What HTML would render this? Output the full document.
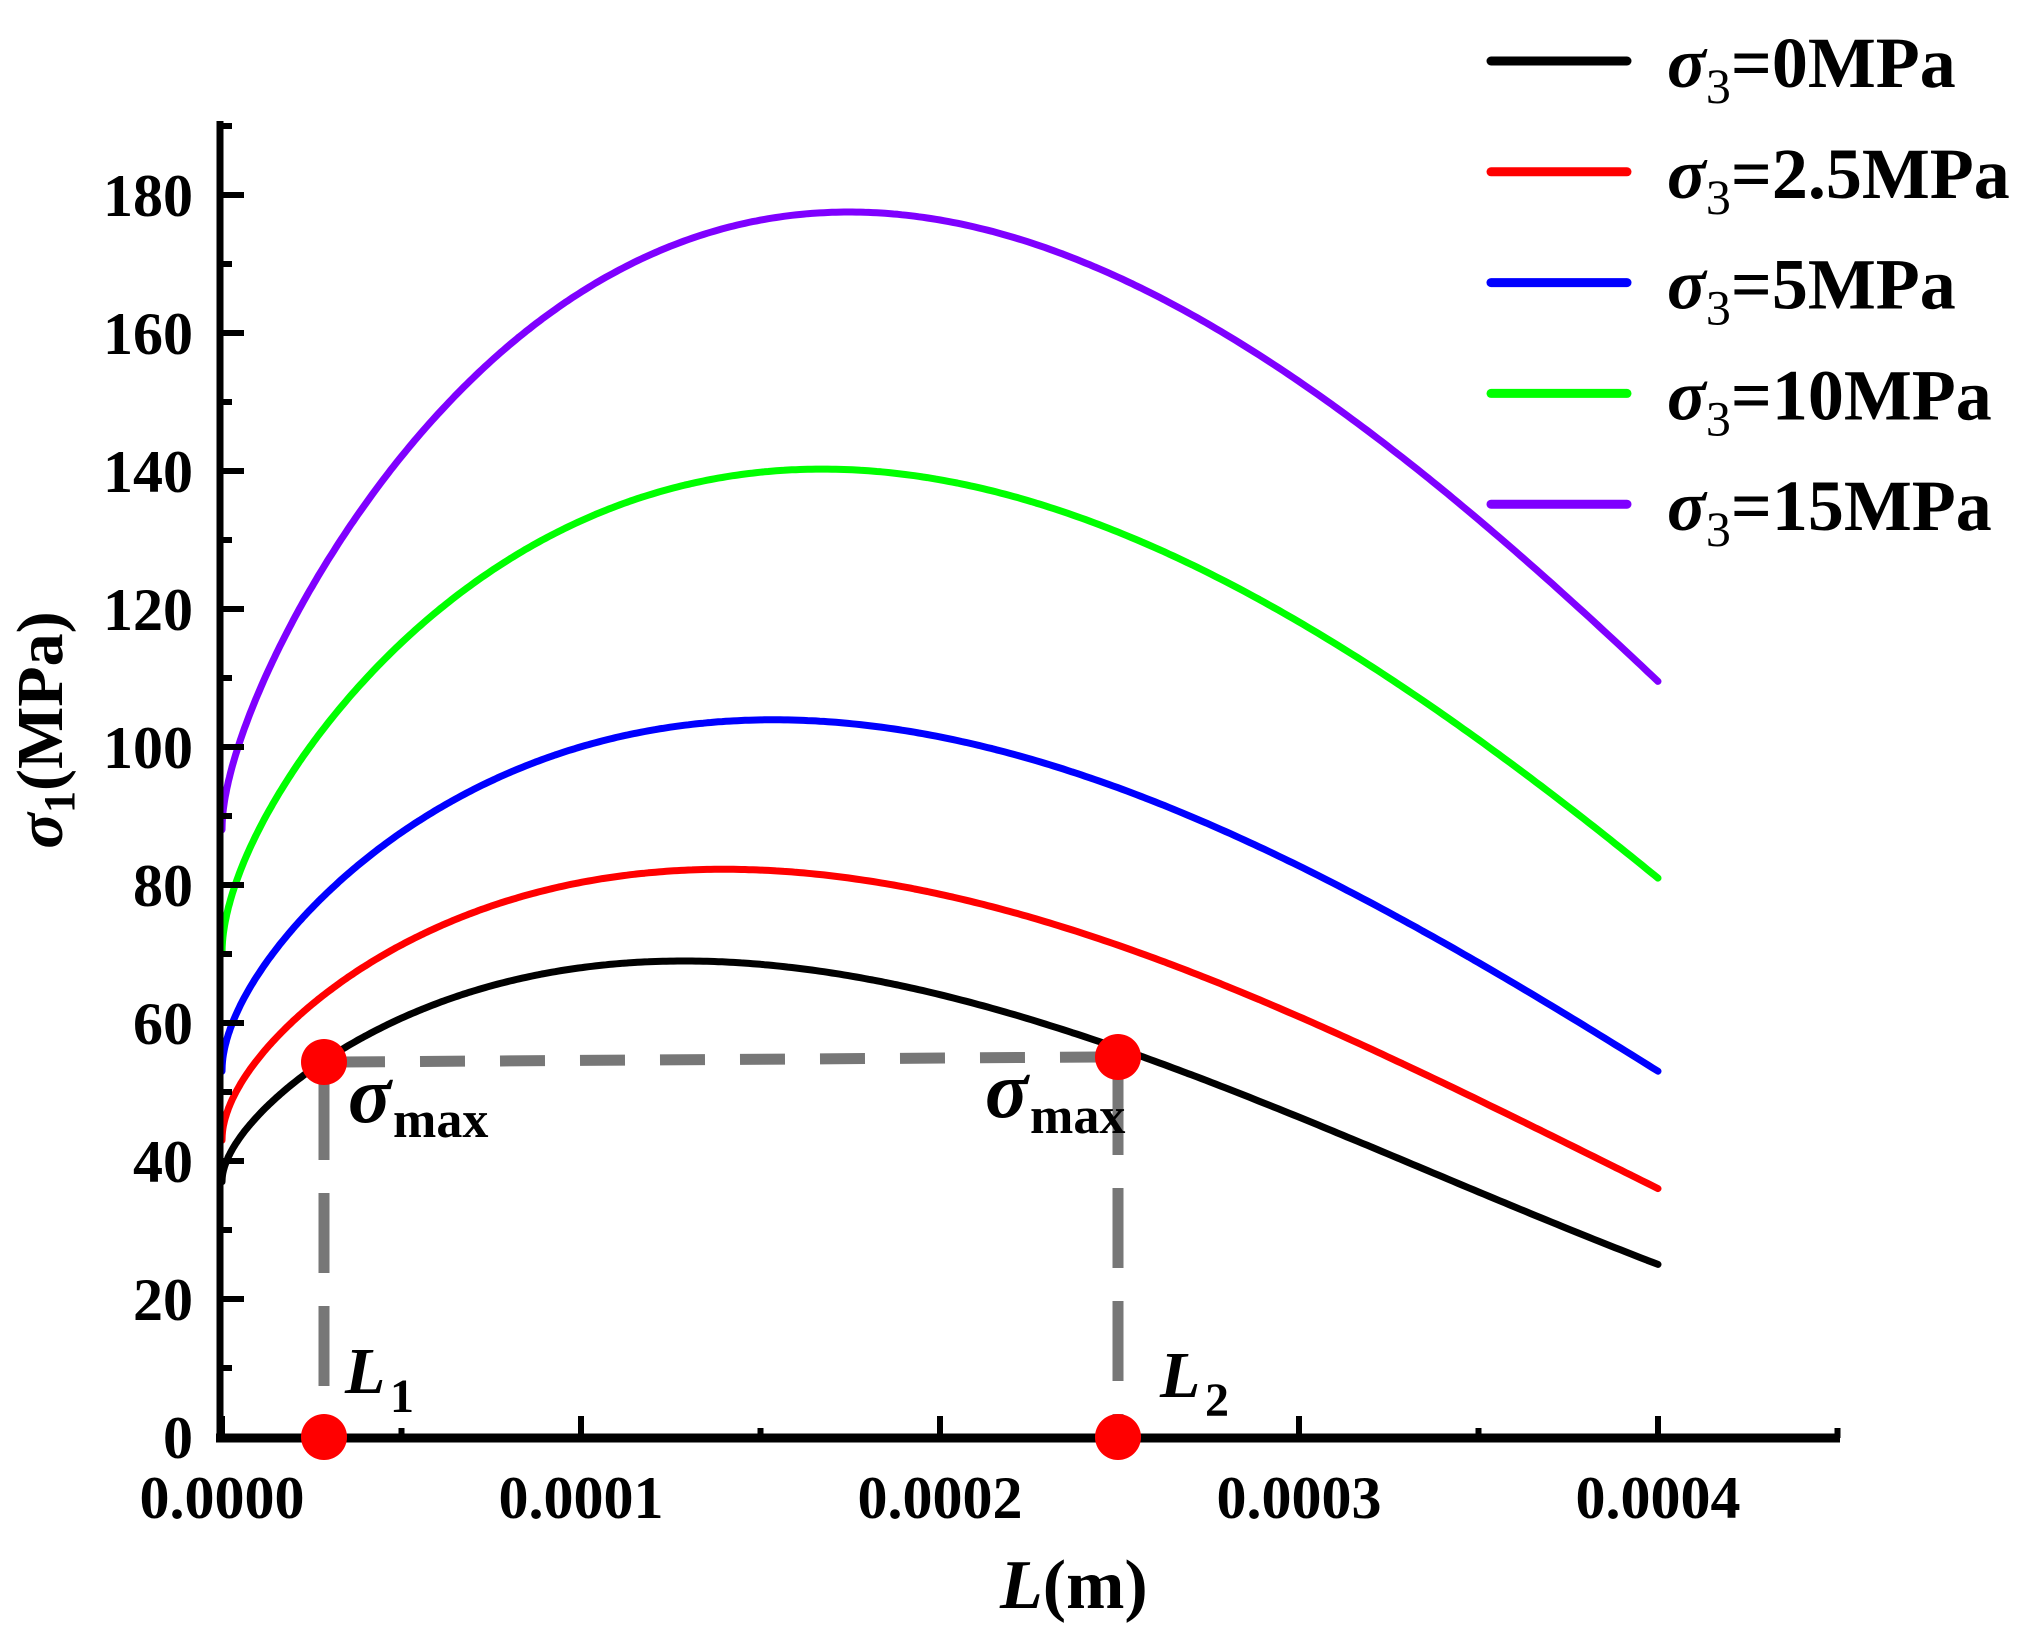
<!DOCTYPE html>
<html><head><meta charset="utf-8"><style>
html,body{margin:0;padding:0;background:#fff;}
svg{display:block;font-family:"Liberation Serif",serif;font-weight:bold;}
</style></head><body>
<svg id="s" width="2044" height="1636" viewBox="0 0 2044 1636" xmlns="http://www.w3.org/2000/svg">
<g id="curves" fill="none" stroke-width="7" stroke-linejoin="round" stroke-linecap="round"></g>
<g stroke="#777" stroke-width="11" fill="none">
<line x1="340" y1="1062" x2="1100" y2="1057" stroke-dasharray="45 35"/>
<line x1="324" y1="1080" x2="324" y2="1420" stroke-dasharray="80 33"/>
<line x1="1118" y1="1075" x2="1118" y2="1420" stroke-dasharray="80 33"/>
</g>
<g stroke="#000" fill="none">
<line x1="220" y1="121" x2="220" y2="1442" stroke-width="7"/>
<line x1="216" y1="1438" x2="1840" y2="1438" stroke-width="9"/>
</g>
<g id="ticks" stroke="#000" stroke-width="6"></g>
<g fill="#f00">
<ellipse cx="324" cy="1062" rx="23" ry="23"/>
<ellipse cx="1118" cy="1057" rx="23" ry="23"/>
<ellipse cx="324" cy="1437" rx="23" ry="23"/>
<ellipse cx="1118" cy="1437" rx="23" ry="23"/>
</g>
<g id="labels" font-size="60"></g>
<text x="348" y="1122" font-size="80" font-style="italic">σ</text>
<text x="393" y="1137" font-size="52">max</text>
<text x="985" y="1117" font-size="80" font-style="italic">σ</text>
<text x="1030" y="1133" font-size="52">max</text>
<text x="345" y="1393" font-size="66" font-style="italic">L</text>
<text x="390" y="1412" font-size="48">1</text>
<text x="1160" y="1397" font-size="66" font-style="italic">L</text>
<text x="1205" y="1416" font-size="48">2</text>
<text x="1000" y="1608" font-size="70"><tspan font-style="italic">L</tspan>(m)</text>
<g transform="translate(62,730) rotate(-90)">
<text x="0" y="0" text-anchor="middle" font-size="66"><tspan font-style="italic">σ</tspan><tspan font-size="44" dy="12">1</tspan><tspan dy="-12">(MPa)</tspan></text>
</g>
<g id="legend"></g>
</svg>
<script>
var NS="http://www.w3.org/2000/svg";
function X(l){return 222+l*359;}function Y(v){return 1437-v*6.9;}
var data=[
["#000",[[0,37],[0.1,46],[0.283,54.5],[0.5,61],[1,68.5],[1.2,69],[1.5,68],[2,64],[2.5,56],[3,46.5],[3.5,36],[4,25]]],
["#f00",[[0,43],[0.1,55],[0.283,64],[0.5,71],[1,80.5],[1.32,82.5],[2,78.5],[2.5,71],[3,61],[3.5,49],[4,36]]],
["#00f",[[0,53],[0.1,67],[0.283,78],[0.5,88],[1,100],[1.47,104],[2,101.5],[2.5,93.5],[3,83],[3.5,69],[4,53]]],
["#0f0",[[0,70],[0.1,88],[0.283,102],[0.5,116],[1,132],[1.62,140.5],[2,139],[2.5,131],[3,118],[3.5,101],[4,81]]],
["#7f00ff",[[0,88],[0.1,108],[0.283,125],[0.5,143],[1,166],[1.5,176],[1.73,177.5],[2,176.5],[2.5,168],[3,153],[3.5,133],[4,109.5]]]];
function basis(u){return [1,Math.sqrt(u),u,u*u,u*u*u];}
function fit(pts){var n=5,A=[],b=[];for(var i=0;i<n;i++){A.push([0,0,0,0,0]);b.push(0);}
pts.forEach(function(p){var w=(p[0]==0||p[0]==4)?20:1;var f=basis(p[0]);for(var i=0;i<n;i++){b[i]+=w*f[i]*p[1];for(var j=0;j<n;j++)A[i][j]+=w*f[i]*f[j];}});
for(var i=0;i<n;i++){var m=i;for(var k=i+1;k<n;k++)if(Math.abs(A[k][i])>Math.abs(A[m][i]))m=k;var t=A[i];A[i]=A[m];A[m]=t;t=b[i];b[i]=b[m];b[m]=t;
for(var k=i+1;k<n;k++){var r=A[k][i]/A[i][i];for(var j=i;j<n;j++)A[k][j]-=r*A[i][j];b[k]-=r*b[i];}}
var c=[0,0,0,0,0];for(var i=n-1;i>=0;i--){var s=b[i];for(var j=i+1;j<n;j++)s-=A[i][j]*c[j];c[i]=s/A[i][i];}return c;}
var cg=document.getElementById("curves");
data.forEach(function(d){var c=fit(d[1]);var s="";
for(var k=0;k<=400;k++){var u=4*Math.pow(k/400,1.5);var f=basis(u),v=0;for(var i=0;i<5;i++)v+=c[i]*f[i];
s+=(k?" L":"M")+X(u).toFixed(1)+" "+Y(v).toFixed(1);}
var e=document.createElementNS(NS,"path");e.setAttribute("d",s);e.setAttribute("stroke",d[0]);cg.appendChild(e);});
var tg=document.getElementById("ticks"),lg=document.getElementById("labels");
function line(a,b,c,d){var e=document.createElementNS(NS,"line");e.setAttribute("x1",a);e.setAttribute("y1",b);e.setAttribute("x2",c);e.setAttribute("y2",d);tg.appendChild(e);}
function txt(x,y,t,anc){var e=document.createElementNS(NS,"text");e.setAttribute("x",x);e.setAttribute("y",y);e.setAttribute("text-anchor",anc);e.textContent=t;lg.appendChild(e);}
for(var v=0;v<=190;v+=10){var y=Y(v);if(v%20==0){line(220,y,244,y);txt(193,y+21,""+v,"end");}else line(220,y,232,y);}
for(var i=0;i<=9;i++){var x=222+i*179.5;if(i%2==0){line(x,1438,x,1416);txt(x,1518,"0.000"+(i/2),"middle");}else line(x,1438,x,1428);}
var leg=document.getElementById("legend"),cols=["#000","#f00","#00f","#0f0","#7f00ff"],nm=["0","2.5","5","10","15"];
for(var k=0;k<5;k++){var y=61+k*110.8;var e=document.createElementNS(NS,"line");e.setAttribute("x1",1491);e.setAttribute("x2",1627);e.setAttribute("y1",y);e.setAttribute("y2",y);e.setAttribute("stroke",cols[k]);e.setAttribute("stroke-width",9);e.setAttribute("stroke-linecap","round");leg.appendChild(e);
var t=document.createElementNS(NS,"text");t.setAttribute("x",1667);t.setAttribute("y",y+26);t.setAttribute("font-size","72");
t.innerHTML='<tspan font-style="italic">σ</tspan><tspan font-size="50" font-weight="normal" dy="16">3</tspan><tspan dy="-16">='+nm[k]+'MPa</tspan>';leg.appendChild(t);}
</script>
</body></html>
